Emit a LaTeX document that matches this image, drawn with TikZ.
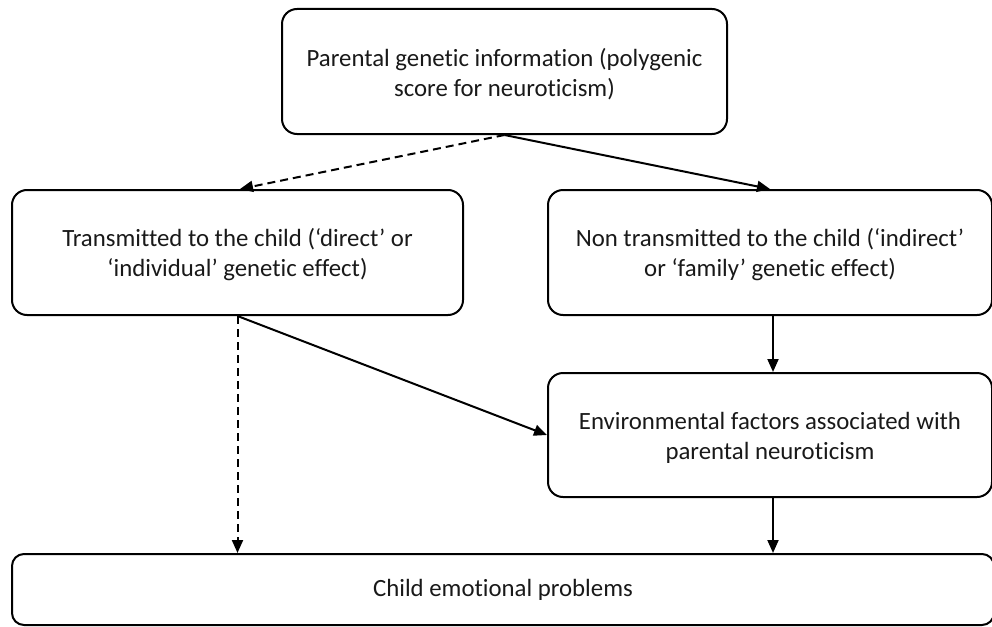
\documentclass[tikz,border=0pt]{standalone}
\usepackage{fontspec}
\setmainfont{Carlito}[Ligatures={NoCommon}]
\usetikzlibrary{arrows.meta}
\newcommand{\upstrut}{\rule{0pt}{23pt}}
\begin{document}
\begin{tikzpicture}[x=1pt,y=-1pt,
  box/.style={draw=black,line width=2pt,rounded corners=15pt,align=center,
    inner sep=0pt,font=\fontsize{24.8}{30}\selectfont,text=black!90},
  arr/.style={line width=2pt,-{Triangle[length=13pt,width=11pt]}},
  darr/.style={arr,dash pattern=on 8pt off 5pt}]
\useasboundingbox (0,0) rectangle (992,626);
\node[box,minimum width=445pt,minimum height=125pt] (top) at (504.5,71.5)
  {\upstrut Parental genetic information (polygenic\\score for neuroticism)};
\node[box,minimum width=451pt,minimum height=125pt] (left) at (237.5,252.5)
  {\upstrut Transmitted to the child (‘direct’ or\\‘individual’ genetic effect)};
\node[box,minimum width=444pt,minimum height=125pt] (right) at (770,252.5)
  {\upstrut Non transmitted to the child (‘indirect’\\or ‘family’ genetic effect)};
\node[box,minimum width=444pt,minimum height=124pt] (env) at (770,435)
  {\upstrut Environmental factors associated with\\parental neuroticism};
\node[box,rounded corners=12pt,minimum width=982pt,minimum height=71pt] (bottom) at (503,589.5)
  {Child emotional problems};
\draw[darr] (top.south) -- ([xshift=2.5pt]left.north);
\draw[arr] (top.south) -- (right.north);
\draw[darr] (left.south) -- (left.south |- bottom.north);
\draw[arr] (left.south) -- (env.west);
\draw[arr] ([xshift=3pt]right.south) -- ([xshift=3pt]env.north);
\draw[arr] ([xshift=3pt]env.south) -- ([xshift=3pt]env.south |- bottom.north);
\end{tikzpicture}
\end{document}
